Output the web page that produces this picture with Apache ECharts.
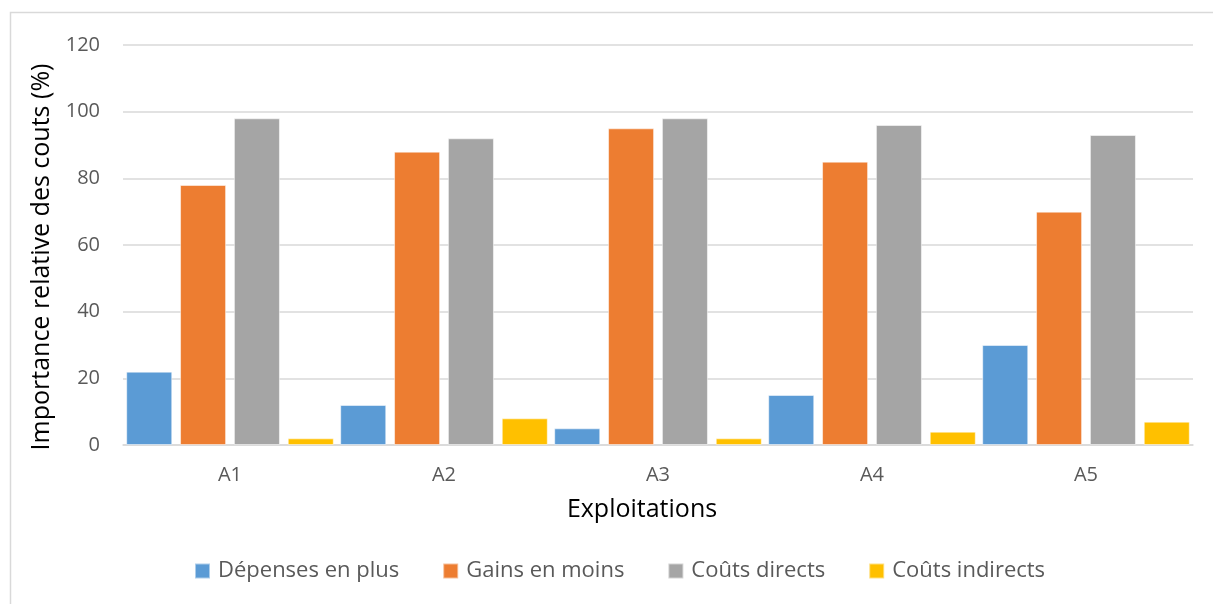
<!DOCTYPE html>
<html>
<head>
<meta charset="utf-8">
<script src="https://cdn.jsdelivr.net/npm/echarts@6/dist/echarts.min.js"></script>
<style>
html,body{margin:0;padding:0;background:#fff;}
#c{width:1213px;height:604px;}
</style>
</head>
<body>
<div id="c"></div>
<script>
const categories = ['A1', 'A2', 'A3', 'A4', 'A5'];
const seriesNames = ['Dépenses en plus', 'Gains en moins', 'Coûts directs', 'Coûts indirects'];
const depensesEnPlus = [22, 12, 5, 15, 30];
const gainsEnMoins = [78, 88, 95, 85, 70];
const coutsDirects = [98, 92, 98, 96, 93];
const coutsIndirects = [2, 8, 2, 4, 7];
const yTicks = [0, 20, 40, 60, 80, 100, 120];
const colors = ['#5B9BD5', '#ED7D31', '#A5A5A5', '#FFC000'];

const FONT = 'Open Sans';
const values = [depensesEnPlus, gainsEnMoins, coutsDirects, coutsIndirects];

const chart = echarts.init(document.getElementById('c'), null, {renderer: 'canvas'});
chart.setOption({
  animation: false,
  backgroundColor: '#fff',
  color: colors,
  textStyle: {fontFamily: FONT},
  graphic: [{
    type: 'rect',
    shape: {x: 10.5, y: 12.5, width: 1400, height: 800},
    style: {fill: 'none', stroke: '#d9d9d9', lineWidth: 1.5},
    silent: true, z: -10
  }],
  grid: {left: 123, right: 20, top: 45, bottom: 159},
  legend: {
    bottom: 17,
    left: 189,
    itemWidth: 15,
    itemHeight: 15,
    itemGap: 43,
    icon: 'rect',
    textStyle: {fontFamily: FONT, fontSize: 22, color: '#595959', padding: [0, 0, 0, 3]},
    data: seriesNames
  },
  xAxis: {
    type: 'category',
    data: categories,
    name: 'Exploitations',
    nameLocation: 'middle',
    nameGap: 52,
    nameTextStyle: {fontFamily: FONT, fontSize: 25, color: '#000', padding: [0, 32, 0, 0]},
    axisLine: {show: true, lineStyle: {color: '#d9d9d9', width: 1.5}},
    axisTick: {show: false},
    axisLabel: {fontFamily: FONT, fontSize: 20, color: '#595959', margin: 20}
  },
  yAxis: {
    type: 'value',
    min: yTicks[0],
    max: yTicks[yTicks.length - 1],
    interval: yTicks[1] - yTicks[0],
    name: 'Importance relative des couts (%)',
    nameLocation: 'middle',
    nameGap: 65,
    nameTextStyle: {fontFamily: FONT, fontSize: 25, color: '#000', padding: [0, 24, 0, 0]},
    axisLine: {show: false},
    axisTick: {show: false},
    axisLabel: {fontFamily: FONT, fontSize: 20, color: '#595959', margin: 23},
    splitLine: {lineStyle: {color: '#d9d9d9', width: 1.5}}
  },
  series: seriesNames.map((n, i) => ({
    name: n,
    type: 'bar',
    data: values[i],
    barCategoryGap: '3%',
    barGap: '17%',
    itemStyle: {color: colors[i], borderColor: 'rgba(255,255,255,0.5)', borderWidth: 1}
  }))
});
</script>
</body>
</html>
